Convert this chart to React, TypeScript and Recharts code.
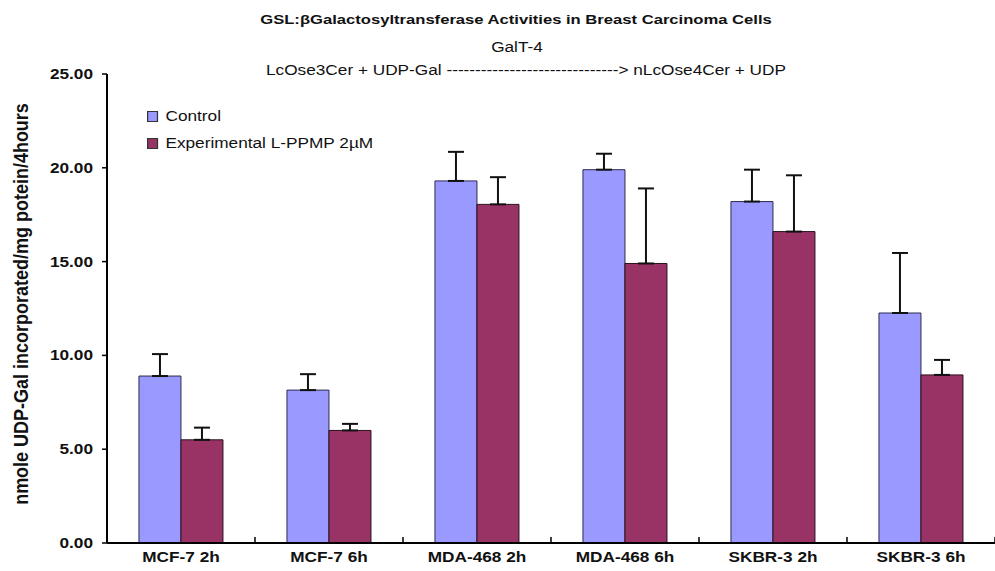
import React from 'react';
import {
  BarChart, Bar, XAxis, YAxis, ErrorBar,
} from 'recharts';

const categories = ['MCF-7 2h', 'MCF-7 6h', 'MDA-468 2h', 'MDA-468 6h', 'SKBR-3 2h', 'SKBR-3 6h'];
const control = [8.9, 8.15, 19.3, 19.9, 18.2, 12.26];
const controlErr = [1.17, 0.85, 1.55, 0.85, 1.7, 3.2];
const experimental = [5.5, 6.0, 18.05, 14.9, 16.6, 8.96];
const experimentalErr = [0.65, 0.35, 1.45, 4.0, 3.0, 0.8];
const yTicks = [0, 5, 10, 15, 20, 25];

const CONTROL_COLOR = '#9999ff';
const EXP_COLOR = '#993366';
const FONT = '"Liberation Sans", Arial, sans-serif';
// the source image is stretched sideways a bit, so text is widened to match
const STRETCH = 1.23;

const data = categories.map((name, i) => ({
  name,
  control: control[i],
  controlErr: [0, controlErr[i]],
  experimental: experimental[i],
  experimentalErr: [0, experimentalErr[i]],
}));

const XTick = (props: any) => {
  const { x, y, payload } = props;
  const half = payload.offset || 0;
  return (
    <g>
      <line x1={x + half} x2={x + half} y1={y - 14} y2={y - 8} stroke="#000" strokeWidth={1.5} />
      <text
        transform={`translate(${x},${y + 11}) scale(${STRETCH},1)`}
        textAnchor="middle" fontWeight="bold" fontSize={14} fill="#111" fontFamily={FONT}
      >
        {payload.value}
      </text>
    </g>
  );
};

const YTick = (props: any) => {
  const { x, y, payload } = props;
  return (
    <text
      transform={`translate(${x},${y + 5}) scale(${STRETCH},1)`}
      textAnchor="end" fontWeight="bold" fontSize={14} fill="#111" fontFamily={FONT}
    >
      {Number(payload.value).toFixed(2)}
    </text>
  );
};

const YLabel = () => (
  <text
    transform="translate(28,304) scale(1.1,1) rotate(-90)"
    textAnchor="middle" fontWeight="bold" fontSize={18} fill="#111" fontFamily={FONT}
  >
    nmole UDP-Gal incorporated/mg potein/4hours
  </text>
);

const wide = (origin: string): React.CSSProperties => ({
  transform: `scaleX(${STRETCH})`,
  transformOrigin: origin,
  whiteSpace: 'nowrap',
});

export default function App() {
  return (
    <div style={{ position: 'relative', width: 995, height: 571, background: '#fff', fontFamily: FONT, color: '#111', overflow: 'hidden' }}>
      <style>{'body{margin:0}'}</style>
      <div style={{ position: 'absolute', left: 0, width: 1032, top: 12, textAlign: 'center', fontSize: 13.5, fontWeight: 'bold', ...wide('center') }}>
        GSL:&beta;Galactosyltransferase Activities in Breast Carcinoma Cells
      </div>
      <div style={{ position: 'absolute', left: 0, width: 1034, top: 39, textAlign: 'center', fontSize: 14, ...wide('center') }}>
        GalT-4
      </div>
      <div style={{ position: 'absolute', left: 0, width: 1052, top: 62, textAlign: 'center', fontSize: 14, ...wide('center') }}>
        LcOse3Cer + UDP-Gal ------------------------------&gt; nLcOse4Cer + UDP
      </div>
      <div style={{ position: 'absolute', left: 147, top: 103, fontSize: 14, lineHeight: '27px', ...wide('left') }}>
        {[['Control', CONTROL_COLOR], ['Experimental L-PPMP 2\u00b5M', EXP_COLOR]].map(([label, color]) => (
          <div key={label} style={{ display: 'flex', alignItems: 'center' }}>
            <span style={{
              display: 'inline-block', width: 7, height: 9, background: color,
              border: '1px solid #333', marginRight: 6,
            }} />
            {label}
          </div>
        ))}
      </div>
      <BarChart
        width={995}
        height={571}
        data={data}
        margin={{ top: 74, right: 0, bottom: 0, left: 47 }}
        barCategoryGap="21.6%"
        barGap={0}
        style={{ position: 'absolute', left: 0, top: 0 }}
      >
        <XAxis
          dataKey="name"
          axisLine={{ stroke: '#000', strokeWidth: 2 }}
          tickLine={false}
          tick={<XTick />}
          height={28}
          interval={0}
        />
        <YAxis
          domain={[0, 25]}
          ticks={yTicks}
          axisLine={{ stroke: '#000', strokeWidth: 2 }}
          tickLine={{ stroke: '#000', strokeWidth: 1.5 }}
          tickSize={5}
          tickMargin={9}
          width={60}
          tick={<YTick />}
          label={<YLabel />}
        />
        <Bar dataKey="control" name="Control" fill={CONTROL_COLOR} stroke="#2a2a50" strokeWidth={1} isAnimationActive={false}>
          <ErrorBar dataKey="controlErr" direction="y" width={8} stroke="#111" strokeWidth={2} />
        </Bar>
        <Bar dataKey="experimental" name="Experimental L-PPMP 2µM" fill={EXP_COLOR} stroke="#2a1020" strokeWidth={1} isAnimationActive={false}>
          <ErrorBar dataKey="experimentalErr" direction="y" width={8} stroke="#111" strokeWidth={2} />
        </Bar>
      </BarChart>
    </div>
  );
}
